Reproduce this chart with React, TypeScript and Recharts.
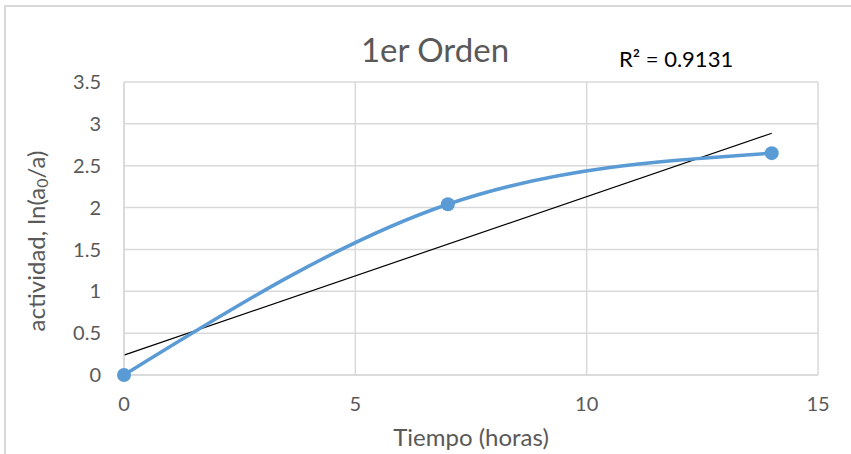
import React from "react";
import {
  CartesianGrid,
  Line,
  LineChart,
  XAxis,
  YAxis,
} from "recharts";

// measured points: tiempo (horas) vs ln(a0/a)
const tiempo = [0, 7, 14];
const actividad = [0, 2.04, 2.65];

// linear trendline endpoints as drawn by Excel
const trendX = [0, 14];
const trendY = [0.238, 2.888];

const xTicks = [0, 5, 10, 15];
const yTicks = [0, 0.5, 1, 1.5, 2, 2.5, 3, 3.5];

const puntos = tiempo.map((x, i) => ({ x, y: actividad[i] }));
const tendencia = trendX.map((x, i) => ({ x, y: trendY[i] }));

const FONT = "Lato, 'Open Sans', sans-serif";
const GRAY = "#595959";
const GRID = "#d9d9d9";
const BLUE = "#5b9bd5";

const YLabel = () => (
  <text
    x={35}
    y={241}
    transform="rotate(-90 35 241)"
    textAnchor="middle"
    dominantBaseline="central"
    fill={GRAY}
    fontSize={24}
    fontFamily={FONT}
  >
    actividad, ln(a
    <tspan fontSize={16} dy={6}>
      0
    </tspan>
    <tspan dy={-6}>/a)</tspan>
  </text>
);

export default function App() {
  return (
    <div
      style={{
        position: "absolute",
        left: 0,
        top: 0,
        width: 851,
        height: 454,
        background: "#fff",
        overflow: "hidden",
        fontFamily: FONT,
      }}
    >
      {/* chart frame */}
      <div
        style={{
          position: "absolute",
          left: 4,
          top: 5,
          width: 900,
          height: 500,
          border: `2px solid ${GRID}`,
          boxSizing: "border-box",
        }}
      />
      <div
        style={{
          position: "absolute",
          left: 0,
          width: 870,
          top: 29,
          textAlign: "center",
          fontSize: 33,
          color: GRAY,
          lineHeight: "40px",
        }}
      >
        1er Orden
      </div>
      <div
        style={{
          position: "absolute",
          left: 619,
          top: 45,
          fontSize: 22,
          color: "#000",
          lineHeight: "28px",
        }}
      >
        R² = 0.9131
      </div>
      <LineChart
        width={851}
        height={454}
        margin={{ top: 82, right: 33, bottom: 0, left: 0 }}
        style={{ position: "absolute", left: 0, top: 0 }}
      >
        <CartesianGrid stroke={GRID} strokeWidth={1.5} />
        <XAxis
          type="number"
          dataKey="x"
          height={79}
          domain={[0, 15]}
          ticks={xTicks}
          stroke={GRID}
          strokeWidth={1.5}
          tickLine={false}
          tickSize={0}
          tickMargin={22}
          tick={{ fill: GRAY, fontSize: 20, fontFamily: FONT }}
          label={{
            value: "Tiempo (horas)",
            position: "insideBottom",
            offset: 8,
            fill: GRAY,
            fontSize: 24,
            fontFamily: FONT,
          }}
        />
        <YAxis
          type="number"
          dataKey="y"
          width={124}
          domain={[0, 3.5]}
          ticks={yTicks}
          stroke={GRID}
          strokeWidth={1.5}
          tickLine={false}
          tickSize={0}
          tickMargin={23}
          tick={{ fill: GRAY, fontSize: 20, fontFamily: FONT }}
          label={<YLabel />}
        />
        <Line
          data={tendencia}
          dataKey="y"
          type="linear"
          stroke="#000"
          strokeWidth={1.2}
          dot={false}
          activeDot={false}
          isAnimationActive={false}
        />
        <Line
          data={puntos}
          dataKey="y"
          type="natural"
          stroke={BLUE}
          strokeWidth={3.5}
          dot={{ r: 7, fill: BLUE, stroke: BLUE, strokeWidth: 0 }}
          activeDot={false}
          isAnimationActive={false}
        />
      </LineChart>
    </div>
  );
}
